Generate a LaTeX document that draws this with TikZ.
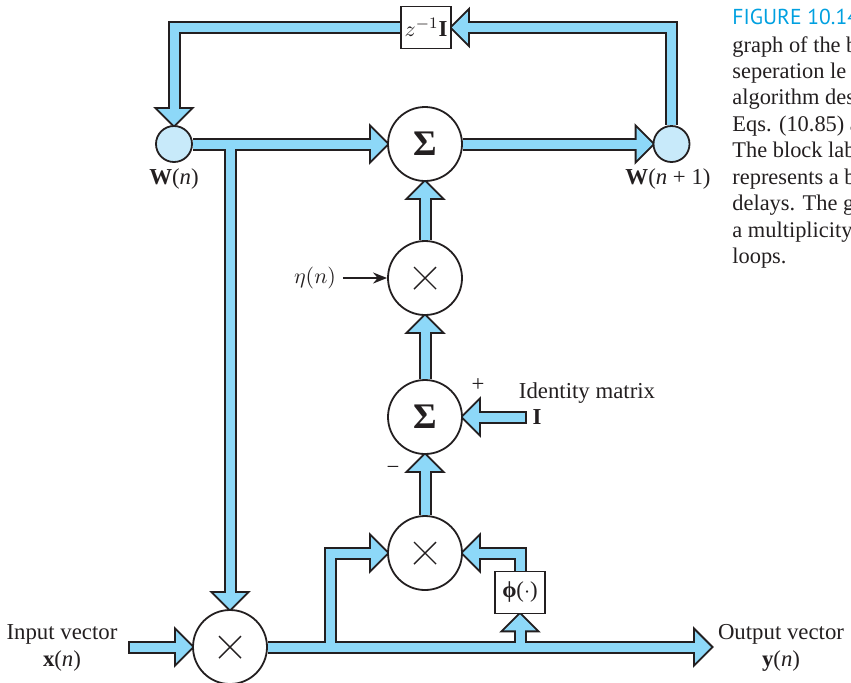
\documentclass[tikz,border=0pt]{standalone}
\usepackage{fontspec}
\setmainfont{Liberation Serif}
\newfontfamily\capsans{PT Sans}
\usetikzlibrary{calc,arrows.meta}
\pgfdeclarelayer{bg}\pgfdeclarelayer{mid}
\pgfsetlayers{bg,mid,main}
\definecolor{pipecol}{RGB}{141,216,248}
\definecolor{knotcol}{RGB}{200,234,250}
\definecolor{capblue}{RGB}{0,160,224}
\definecolor{ink}{RGB}{35,31,32}
\newcommand\pipe[2][]{%
 \begin{pgfonlayer}{bg}\draw[ink,line width=6.5pt,line join=miter] #2;\end{pgfonlayer}%
 \begin{pgfonlayer}{mid}\draw[pipecol,line width=4.5pt,line join=miter,#1] #2;\end{pgfonlayer}}
\newcommand\phead[2]{%
 \begin{pgfonlayer}{bg}\filldraw[ink,line width=2pt,line join=miter,shift={(#1)},rotate=#2] (0,0)--(-16,16)--(-16,-16)--cycle;\end{pgfonlayer}%
 \begin{pgfonlayer}{mid}\fill[pipecol,shift={(#1)},rotate=#2] (0,0)--(-16,16)--(-16,-16)--cycle;\end{pgfonlayer}}
\tikzset{
 every node/.style={font=\fontsize{11.4}{13.7}\selectfont, text=ink},
 opnode/.style={circle,draw=ink,fill=white,line width=0.9pt,minimum size=37pt,inner sep=0pt},
 knotnode/.style={circle,draw=ink,fill=knotcol,line width=0.9pt,minimum size=18pt,inner sep=0pt},
 blknode/.style={draw=ink,fill=white,line width=0.9pt,minimum width=25pt,minimum height=21pt,inner sep=0pt},
 capline/.style={anchor=base west,inner sep=0pt,font=\fontsize{11.2}{13}\selectfont},
 crossline/.style={ink,line width=0.7pt}
}
\newcommand\crossin[1]{%
 \draw[crossline] ($(#1)+(-11,-11)$) -- ($(#1)+(11,11)$);
 \draw[crossline] ($(#1)+(-11,11)$) -- ($(#1)+(11,-11)$);}
\begin{document}
\begin{tikzpicture}[x=0.5pt,y=-0.5pt]
\useasboundingbox (0,0) rectangle (851,682);
% nodes
\node[opnode] (sumA) at (425,144) {\fontsize{18}{18}\selectfont\textbf{Σ}};
\node[opnode] (mulE) at (425,278) {};
\node[opnode] (sumB) at (425,417) {\fontsize{18}{18}\selectfont\textbf{Σ}};
\node[opnode] (mulC) at (425,553) {};
\node[opnode] (mulX) at (230,647) {};
\node[knotnode] (wn) at (174,144) {};
\node[knotnode] (wn1) at (671.5,144) {};
\node[blknode] (zbox) at (426,27.5) {$z^{-1}$\textbf{I}};
\node[blknode] (phibox) at (520,592.5) {\textbf{ϕ}($\cdot$)};
\crossin{mulE}
\crossin{mulC}
\crossin{mulX}
\coordinate (iend) at (527,417);
\coordinate (xin) at (128,647);
\coordinate (yout) at (711,647);
\coordinate (b1) at (330,647);
\coordinate (b2) at (520,647);
% pipes
\pipe{(wn) -- ($(sumA.west)+(-13,0)$)} \phead{sumA.west}{0}
\pipe{(wn -| mulX) -- ($(mulX.north)+(0,-13)$)} \phead{mulX.north}{-90}
\pipe{(sumA) -- ($(wn1.west)+(-13,0)$)} \phead{wn1.west}{0}
\pipe{(wn1) -- (wn1 |- zbox) -- ($(zbox.east)+(13,0)$)} \phead{zbox.east}{180}
\pipe{(zbox) -- (zbox -| wn) -- ($(wn.north)+(0,-13)$)} \phead{wn.north}{-90}
\pipe{(mulE) -- ($(sumA.south)+(0,13)$)} \phead{sumA.south}{90}
\pipe{(sumB) -- ($(mulE.south)+(0,13)$)} \phead{mulE.south}{90}
\pipe{(mulC) -- ($(sumB.south)+(0,13)$)} \phead{sumB.south}{90}
\pipe[shorten <=1pt]{(iend) -- ($(sumB.east)+(13,0)$)} \phead{sumB.east}{180}
\pipe[shorten <=1pt]{(xin) -- ($(mulX.west)+(-13,0)$)} \phead{mulX.west}{0}
\pipe{(mulX) -- ($(yout)+(-13,0)$)} \phead{yout}{0}
\pipe{(b1) -- (b1 |- mulC) -- ($(mulC.west)+(-13,0)$)} \phead{mulC.west}{0}
\pipe{(b2) -- ($(phibox.south)+(0,13)$)} \phead{phibox.south}{90}
\pipe{(phibox) -- (phibox |- mulC) -- ($(mulC.east)+(13,0)$)} \phead{mulC.east}{180}
% labels
\node (wnl) at (174,179) {\textbf{W}(\textit{n})};
\node (wn1l) at (668,179) {\textbf{W}(\textit{n} + 1)};
\node (etal) at (315,278) {$\eta(n)$};
\draw[ink,line width=0.9pt,-{Stealth[length=7pt,width=5.5pt]}] (etal.east) -- (mulE.west);
\node (plus) at (478,385) {+};
\node (minus) at (393,470) {−};
\node (idl) at (587,393) {Identity matrix};
\node (idI) at (537,417) {\textbf{I}};
\node[align=center] (inl) at (62,648) {Input vector\\\textbf{x}(\textit{n})};
\node[align=center] (outl) at (781,648) {Output vector\\\textbf{y}(\textit{n})};
% caption
\begin{scope}
\clip (0,0) rectangle (851,682);
\node[capline,font=\capsans\fontsize{10.8}{12}\selectfont,text=capblue] (c1) at (732,24) {FIGURE 10.14};
\node[capline] (c2) at (732,52) {graph of the b};
\node[capline] (c3) at (732,78) {seperation le};
\node[capline] (c4) at (732,104) {algorithm des};
\node[capline] (c5) at (732,131) {Eqs. (10.85) a};
\node[capline] (c6) at (732,157) {The block lab};
\node[capline] (c7) at (732,184) {represents a b};
\node[capline] (c8) at (732,210) {delays. The gr};
\node[capline] (c9) at (732,237) {a multiplicity};
\node[capline] (c10) at (732,263) {loops.};
\end{scope}
\end{tikzpicture}
\end{document}
